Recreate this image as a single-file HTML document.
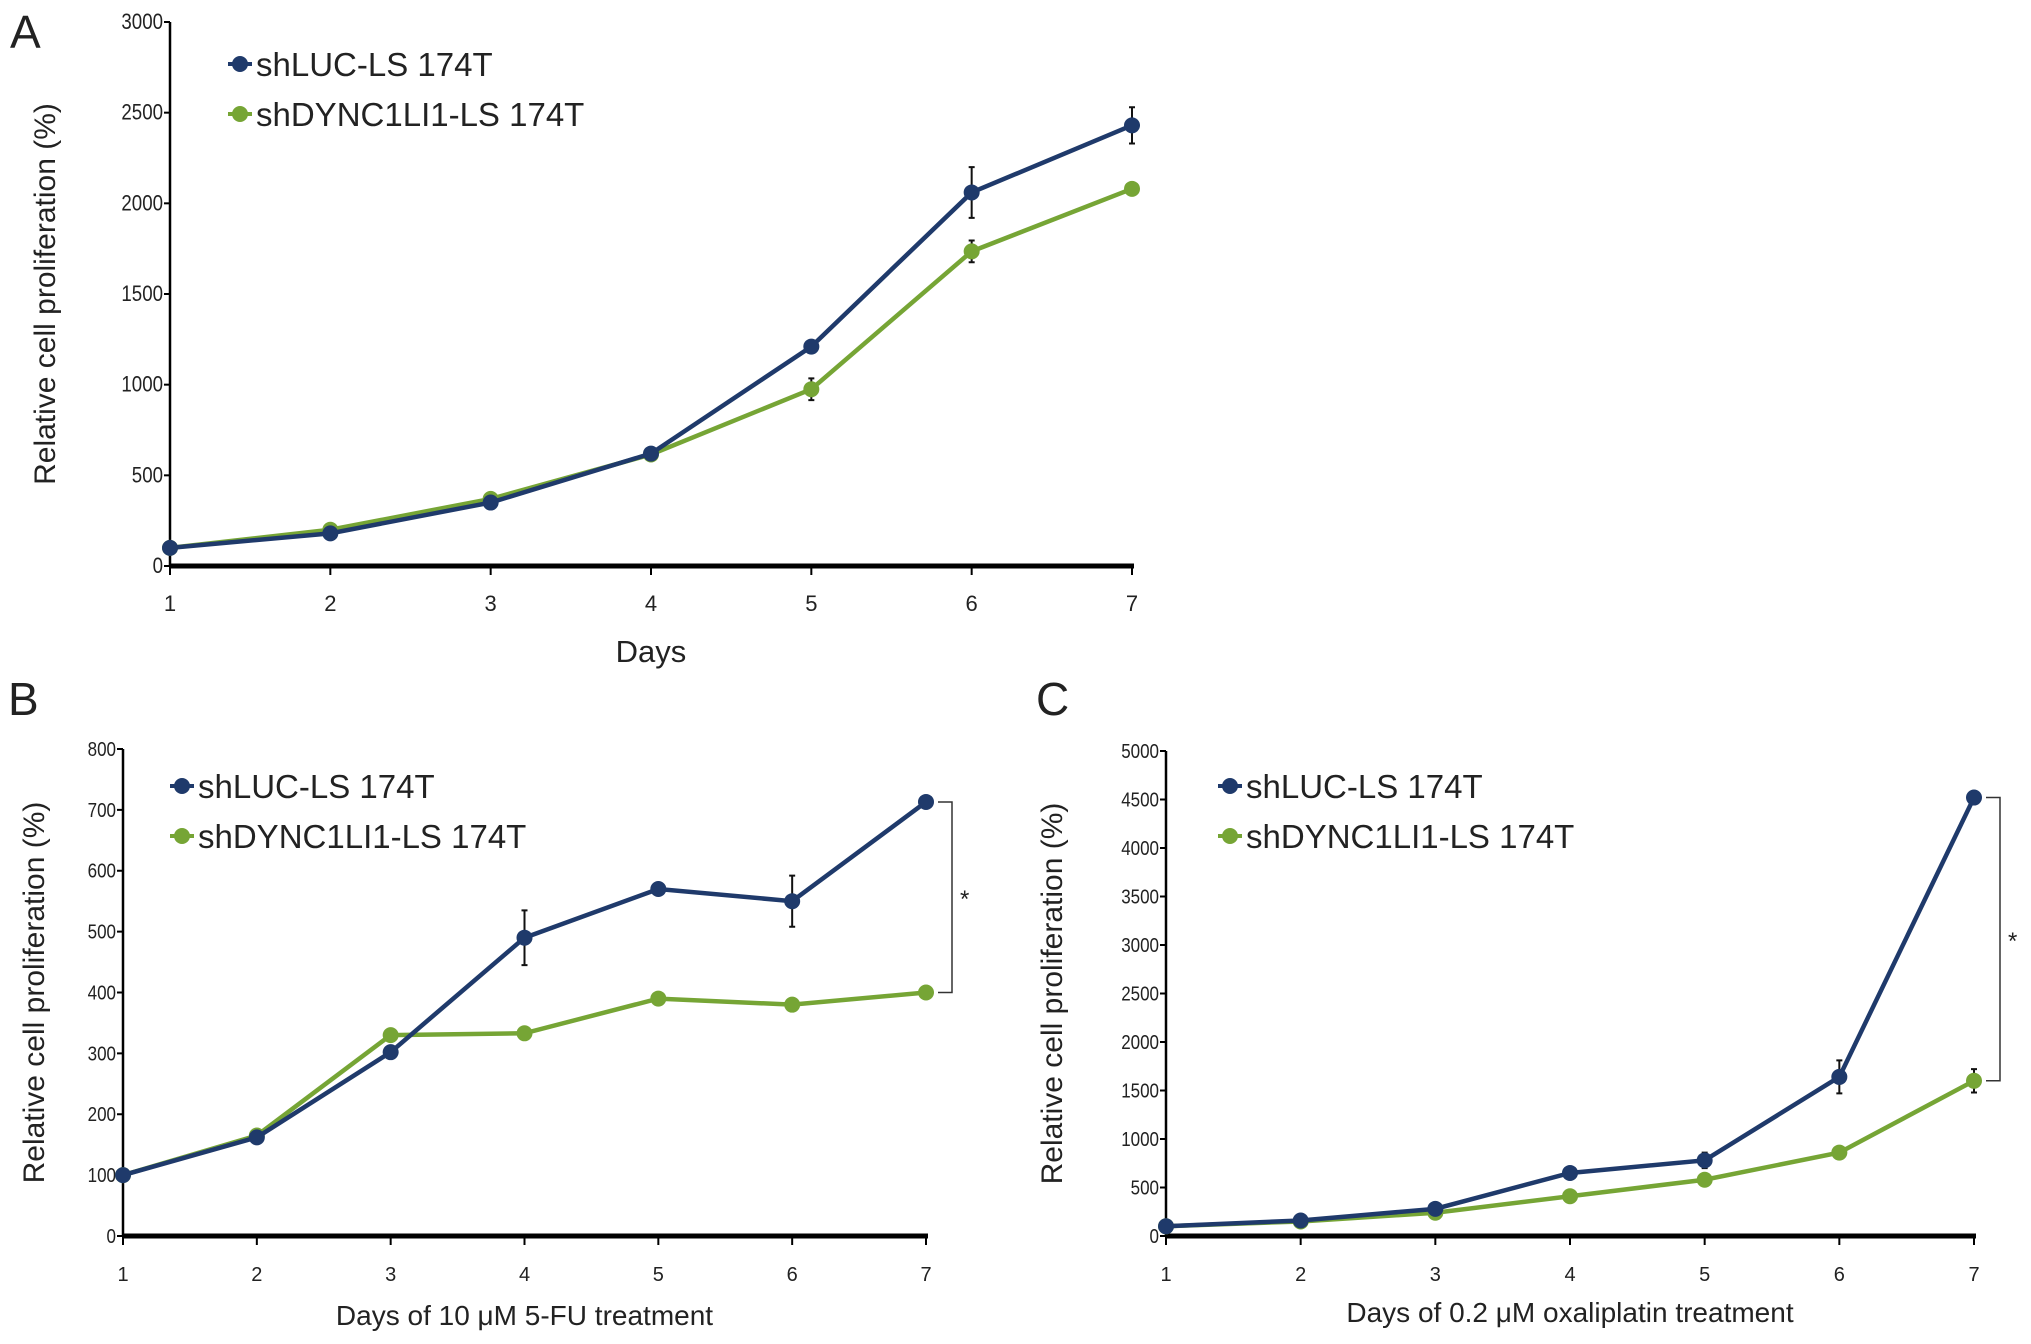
<!DOCTYPE html>
<html><head><meta charset="utf-8"><style>
html,body{margin:0;padding:0;background:#fff}
svg{display:block}
text{font-family:"Liberation Sans",sans-serif;fill:#222}
</style></head><body>
<svg id="fig" width="2031" height="1344" viewBox="0 0 2031 1344" xmlns="http://www.w3.org/2000/svg"></svg>
<script>
const days = [1,2,3,4,5,6,7];
const legendLabels = ["shLUC-LS 174T","shDYNC1LI1-LS 174T"];
const aBlue = [100,180,350,620,1210,2060,2430];
const aBlueErr = [0,0,0,0,30,140,100];
const aGreen = [100,200,370,615,975,1735,2080];
const aGreenErr = [0,0,0,0,60,60,0];
const aTicks = [0,500,1000,1500,2000,2500,3000];
const bBlue = [100,162,302,490,570,550,713];
const bBlueErr = [0,0,0,45,0,42,0];
const bGreen = [100,165,330,333,390,380,400];
const bGreenErr = [0,0,0,0,0,0,0];
const bTicks = [0,100,200,300,400,500,600,700,800];
const cBlue = [100,160,280,650,780,1640,4520];
const cBlueErr = [0,0,0,0,80,170,0];
const cGreen = [100,150,240,410,580,860,1600];
const cGreenErr = [0,0,0,0,0,0,120];
const cTicks = [0,500,1000,1500,2000,2500,3000,3500,4000,4500,5000];

const NS="http://www.w3.org/2000/svg";
const svg=document.getElementById('fig');
function mk(tag,attrs,parent,txt){const e=document.createElementNS(NS,tag);for(const k in attrs)e.setAttribute(k,attrs[k]);if(txt!==undefined)e.textContent=txt;(parent||svg).appendChild(e);return e;}
const BLUE="#1f3a6b", GREEN="#76a535";

function panel(p){
  const g=mk('g',{});
  
  
  const ymax=p.ticks[p.ticks.length-1];
  const X=d=>p.x0+(d-1)*(p.x1-p.x0)/6;
  const Y=v=>p.y0-(v/ymax)*(p.y0-p.yt);
  const letter=mk('text',{x:p.lx,y:p.ly,'font-size':46},g,p.id.toUpperCase());
  
  
  const ya=mk('line',{x1:p.x0,y1:p.yt,x2:p.x0,y2:p.y0,stroke:'#000','stroke-width':2.5},g);
  
  
  p.ticks.forEach(t=>{
    mk('line',{x1:p.x0-6,y1:Y(t),x2:p.x0,y2:Y(t),stroke:'#000','stroke-width':2},g);
    const tl=mk('text',{x:p.x0-7,y:Y(t)+7,'font-size':p.tf,'text-anchor':'end',transform:`translate(${p.x0-7},0) scale(0.85,1) translate(${-(p.x0-7)},0)`},g,String(t));
    
    
  });
  const xa=mk('line',{x1:p.x0,y1:p.y0,x2:p.x1+2,y2:p.y0,stroke:'#000','stroke-width':5},g);
  
  
  days.forEach(d=>{
    mk('line',{x1:X(d),y1:p.y0,x2:X(d),y2:p.y0+9,stroke:'#000','stroke-width':2},g);
    const tl=mk('text',{x:X(d),y:p.y0+45,'font-size':p.tf,'text-anchor':'middle'},g,String(d));
    
    
  });
  const yt=mk('text',{x:0,y:0,'font-size':30,'text-anchor':'middle',transform:`translate(${p.yx},${(p.yt+p.y0)/2}) rotate(-90)`},g,'Relative cell proliferation (%)');
  
  
  const xt=mk('text',{x:(p.x0+p.x1)/2,y:p.xty,'font-size':p.xtf,'text-anchor':'middle'},g,p.xtitle);
  
  
  if(p.sig){
    const top=Y(p.blue[6]), bot=Y(p.green[6]), bx=X(7)+26;
    const br=mk('path',{d:`M${X(7)+12},${top}H${bx}V${bot}H${X(7)+12}`,fill:'none',stroke:'#333','stroke-width':1.5},g);
    
    
    const st=mk('text',{x:bx+8,y:(top+bot)/2+10,'font-size':24},g,'*');
    
    
  }
  [[p.green,p.greenErr,GREEN,'green'],[p.blue,p.blueErr,BLUE,'blue']].forEach(([vals,errs,col,nm])=>{
    const sg=mk('g',{},g);
    
    
    vals.forEach((v,i)=>{ if(errs[i]>0){
      const eb=mk('path',{d:`M${X(days[i])},${Y(v+errs[i])}V${Y(v-errs[i])}M${X(days[i])-3},${Y(v+errs[i])}h6M${X(days[i])-3},${Y(v-errs[i])}h6`,stroke:'#111','stroke-width':2,fill:'none'},sg);
      
      
    }});
    const ln=mk('polyline',{points:vals.map((v,i)=>X(days[i])+','+Y(v)).join(' '),fill:'none',stroke:col,'stroke-width':4.5},sg);
    
    
    vals.forEach((v,i)=>{
      const c=mk('circle',{cx:X(days[i]),cy:Y(v),r:8,fill:col},sg);
      
      
    });
  });
  [[BLUE,legendLabels[0]],[GREEN,legendLabels[1]]].forEach(([col,lab],i)=>{
    const lg=mk('g',{},g);
    
    
    const ly=p.legY+i*p.legDy;
    mk('line',{x1:p.legX-10,y1:ly,x2:p.legX+14,y2:ly,stroke:col,'stroke-width':4},lg);
    mk('circle',{cx:p.legX+2,cy:ly,r:8,fill:col},lg);
    mk('text',{x:p.legX+18,y:ly+12,'font-size':33},lg,lab);
  });
}
panel({id:'a',x0:170,x1:1132,yt:22,y0:566,ticks:aTicks,blue:aBlue,blueErr:aBlueErr,green:aGreen,greenErr:aGreenErr,
  lx:10,ly:48,tf:22,yx:55,xtitle:'Days',xty:662,xtf:31,legX:238,legY:64,legDy:50});
panel({id:'b',x0:123,x1:926,yt:749,y0:1236,ticks:bTicks,blue:bBlue,blueErr:bBlueErr,green:bGreen,greenErr:bGreenErr,
  lx:8,ly:715,tf:20,yx:44,xtitle:'Days of 10 \u03bcM 5-FU treatment',xty:1325,xtf:28,legX:180,legY:786,legDy:50,sig:true});
panel({id:'c',x0:1166,x1:1974,yt:751,y0:1236,ticks:cTicks,blue:cBlue,blueErr:cBlueErr,green:cGreen,greenErr:cGreenErr,
  lx:1036,ly:715,tf:20,yx:1062,xtitle:'Days of 0.2 \u03bcM oxaliplatin treatment',xty:1322,xtf:28,legX:1228,legY:786,legDy:50,sig:true});
</script>
</body></html>
